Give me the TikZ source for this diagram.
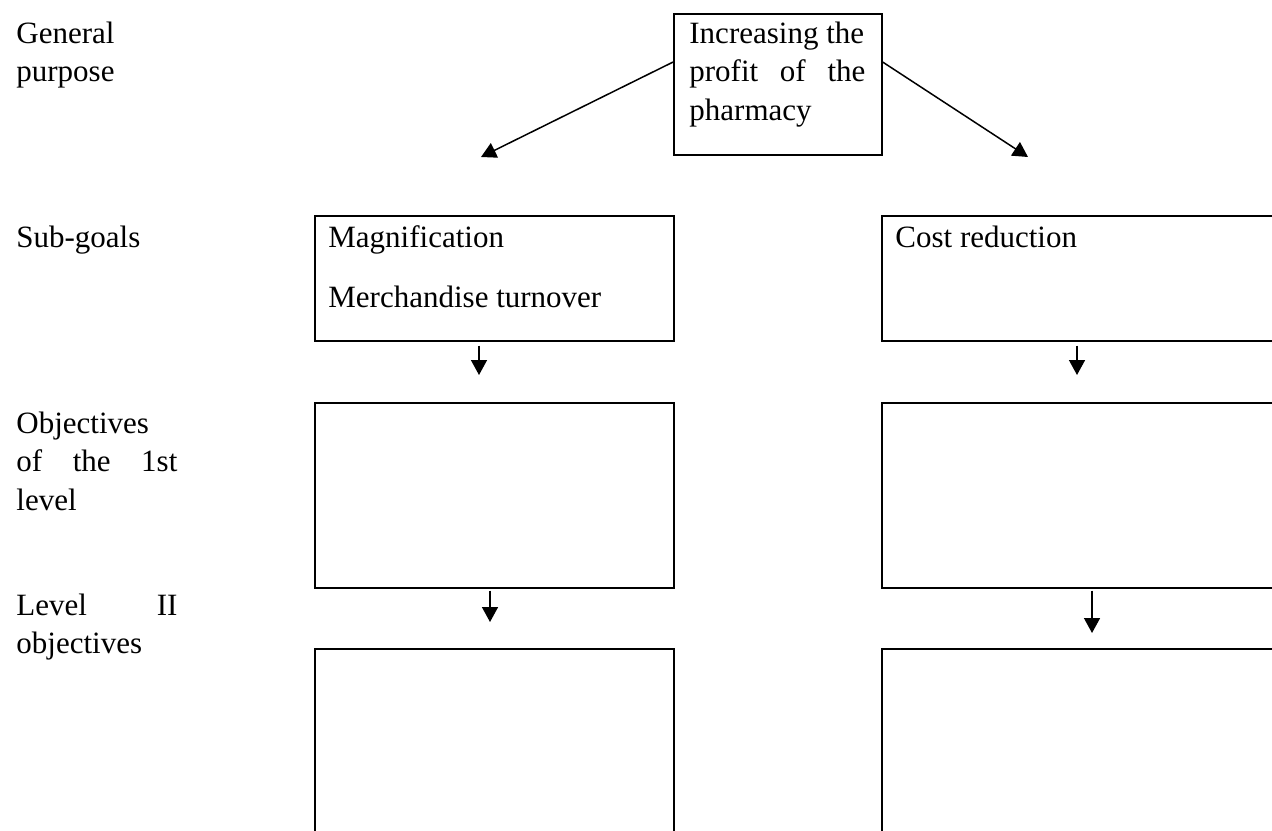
\documentclass[tikz,border=0pt]{standalone}
\usepackage{fontspec}
\setmainfont{Liberation Serif}
\usetikzlibrary{arrows.meta,positioning}
\newcommand{\fs}{\fontsize{15.5}{19.25}\selectfont}
\tikzset{box/.style={draw,line width=.85pt,anchor=north west,inner sep=0pt},
 txt/.style={anchor=base west,inner sep=0pt},
 arr/.style={-{Triangle[length=7.5pt,width=8pt]},line width=.75pt},
 every node/.style={font=\fs}}
\begin{document}
\begin{tikzpicture}[x=.5pt,y=-.5pt]
\useasboundingbox (0,0) rectangle (1272,830);
% row labels
\node[txt] (l1) at (16,43) {\parbox[t]{80.5pt}{General\\purpose}};
\node[txt] (l2) at (16,247) {Sub-goals};
\node[txt] (l3) at (16,433) {\parbox[t]{80.5pt}{Objectives\\\makebox[80.5pt][s]{of the 1st}\\level}};
\node[txt] (l4) at (16,615) {\parbox[t]{80.5pt}{\makebox[80.5pt][s]{Level II}\\objectives}};
% boxes
\node[box,minimum width=104pt,minimum height=70.5pt] (gp) at (673,13) {};
\node[txt] (gpt) at (689,43) {\parbox[t]{88pt}{Increasing the\\\makebox[88pt][s]{profit of the}\\pharmacy}};
\node[box,minimum width=179.5pt,minimum height=62.5pt] (sg1) at (314,215) {};
\node[box,minimum width=209.5pt,minimum height=62.5pt] (sg2) at (881,215) {};
\node[txt] (sg1t) at (328,247) {\parbox[t]{170pt}{Magnification\\[10.75pt]Merchandise turnover}};
\node[txt] (sg2t) at (895,247) {Cost reduction};
\node[box,minimum width=179.5pt,minimum height=92.5pt] (ob1) at (314,402) {};
\node[box,minimum width=209.5pt,minimum height=92.5pt] (ob2) at (881,402) {};
\node[box,minimum width=179.5pt,minimum height=106pt] (lv1) at (314,648) {};
\node[box,minimum width=209.5pt,minimum height=106pt] (lv2) at (881,648) {};
% arrows
\coordinate (t1) at (481,157);\coordinate (t2) at (1028,157);
\coordinate (t3) at (479,375);\coordinate (t4) at (1077,375);
\coordinate (t5) at (490,622);\coordinate (t6) at (1092,633);
\draw[arr] (gp.168)--(t1);\draw[arr] (gp.12)--(t2);
\draw[arr,shorten <=2pt] (sg1.south -| t3)--(t3);
\draw[arr,shorten <=2pt] (sg2.south -| t4)--(t4);
\draw[arr,shorten <=1pt] (ob1.south -| t5)--(t5);
\draw[arr,shorten <=1pt] (ob2.south -| t6)--(t6);
\end{tikzpicture}
\end{document}
